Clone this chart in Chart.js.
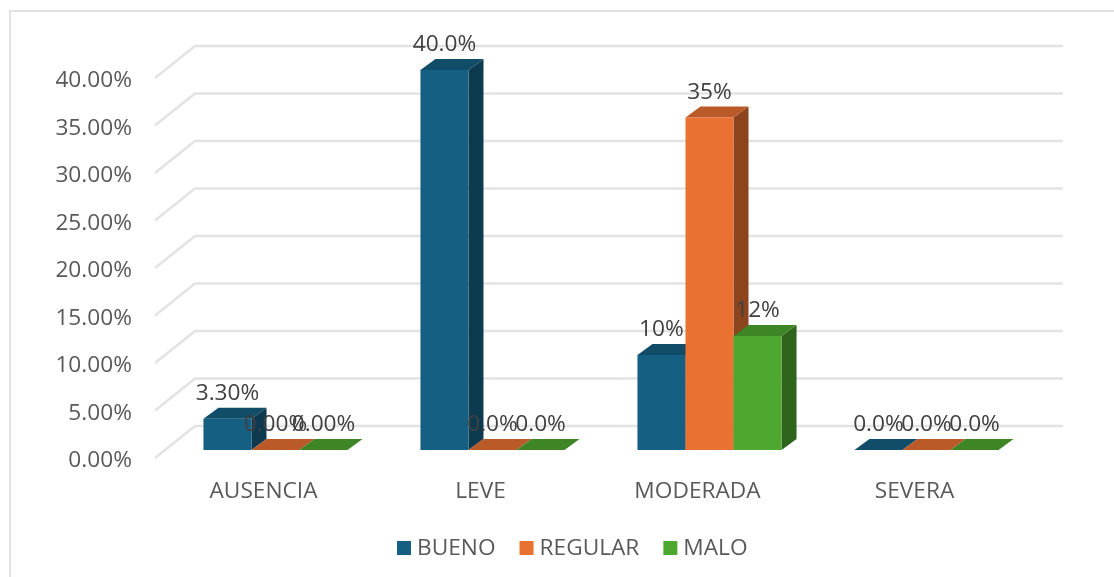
<!DOCTYPE html>
<html>
<head>
<meta charset="utf-8">
<title>Chart</title>
<script src="https://cdn.jsdelivr.net/npm/chart.js@4"></script>
<style>
  html, body { margin: 0; padding: 0; background: #fff; overflow: hidden; }
  #wrap { position: relative; width: 1114px; height: 577px; }
  #frame { position: absolute; left: 9px; top: 10px; width: 1120px; height: 600px; border: 2px solid #e2e2e2; }
  canvas { position: absolute; left: 0; top: 0; }
</style>
</head>
<body>
<div id="wrap">
  <div id="frame"></div>
  <canvas id="chart" width="1114" height="577"></canvas>
</div>
<script>
const categories = ['AUSENCIA', 'LEVE', 'MODERADA', 'SEVERA'];
const bueno = [3.3, 40, 10, 0];
const regular = [0, 0, 35, 0];
const malo = [0, 0, 12, 0];
const buenoLabels = ['3.30%', '40.0%', '10%', '0.0%'];
const regularLabels = ['0.00%', '0.0%', '35%', '0.0%'];
const maloLabels = ['0.00%', '0.0%', '12%', '0.0%'];

const fontFamily = '"Open Sans", "Noto Sans", sans-serif';
const fontSize = 22.7;
const textColor = '#595959';

// Offsets of the fake 3D box: bars sit inside the floor, walls are further back
const barShift = { x: 12, y: -8 };
const barDepth = { x: 15, y: -11 };
const wallDepth = { x: 40, y: -32 };

const shades = [
  { top: '#114d68', side: '#0d3a4e' },
  { top: '#ba5a28', side: '#8c441e' },
  { top: '#3e8625', side: '#2f641c' }
];
const dataLabels = [buenoLabels, regularLabels, maloLabels];

function fillPoly(ctx, color, pts) {
  ctx.fillStyle = color;
  ctx.beginPath();
  pts.forEach((p, i) => (i ? ctx.lineTo(p[0], p[1]) : ctx.moveTo(p[0], p[1])));
  ctx.closePath();
  ctx.fill();
}

const box3d = {
  id: 'box3d',
  // back wall and side wall gridlines
  beforeDatasetsDraw(chart) {
    const { ctx, chartArea, scales } = chart;
    ctx.save();
    ctx.strokeStyle = '#e3e3e3';
    ctx.lineWidth = 2.5;
    scales.y.ticks.forEach((tick, i) => {
      const y = scales.y.getPixelForTick(i);
      ctx.beginPath();
      ctx.moveTo(chartArea.left, y);
      ctx.lineTo(chartArea.left + wallDepth.x, y + wallDepth.y);
      ctx.lineTo(chartArea.right + wallDepth.x, y + wallDepth.y);
      ctx.stroke();
    });
    ctx.restore();
  },
  // chart.js paints the last dataset first, here the first one has to go under
  beforeDatasetDraw() {
    return false;
  },
  afterDatasetsDraw(chart) {
    const { ctx } = chart;
    chart.data.datasets.forEach((ds, i) => {
      const meta = chart.getDatasetMeta(i);
      const shade = shades[i];
      ctx.save();
      ctx.translate(barShift.x, barShift.y);
      meta.data.forEach(bar => {
        const p = bar.getProps(['x', 'y', 'base', 'width'], true);
        const l = p.x - p.width / 2;
        const r = p.x + p.width / 2;
        fillPoly(ctx, shade.side, [
          [r, p.y], [r + barDepth.x, p.y + barDepth.y],
          [r + barDepth.x, p.base + barDepth.y], [r, p.base]
        ]);
        fillPoly(ctx, shade.top, [
          [l, p.y], [r, p.y],
          [r + barDepth.x, p.y + barDepth.y], [l + barDepth.x, p.y + barDepth.y]
        ]);
      });
      meta.controller.draw();
      ctx.restore();
    });

    // value labels on top of everything
    ctx.save();
    ctx.font = fontSize + 'px ' + fontFamily;
    ctx.fillStyle = '#404040';
    ctx.textAlign = 'center';
    ctx.textBaseline = 'middle';
    chart.data.datasets.forEach((ds, i) => {
      chart.getDatasetMeta(i).data.forEach((bar, j) => {
        const p = bar.getProps(['x', 'y'], true);
        ctx.fillText(dataLabels[i][j], p.x + barShift.x, p.y + barShift.y - 25);
      });
    });

    // legend, the native one keeps too wide a gap between box and text
    ctx.textAlign = 'left';
    let x = 397;
    chart.data.datasets.forEach(ds => {
      ctx.fillStyle = ds.backgroundColor;
      ctx.fillRect(x, 541, 14, 14);
      x += 20;
      ctx.fillStyle = textColor;
      ctx.fillText(ds.label, x, 549);
      x += ctx.measureText(ds.label).width + 24;
    });
    ctx.restore();
  }
};

new Chart(document.getElementById('chart').getContext('2d'), {
  type: 'bar',
  data: {
    labels: categories,
    datasets: [
      { label: 'BUENO', data: bueno, backgroundColor: '#156082' },
      { label: 'REGULAR', data: regular, backgroundColor: '#E97132' },
      { label: 'MALO', data: malo, backgroundColor: '#4EA72E' }
    ]
  },
  options: {
    responsive: false,
    animation: false,
    categoryPercentage: 0.664,
    barPercentage: 1,
    layout: { padding: { top: 78, right: 91, bottom: 57, left: 0 } },
    scales: {
      x: {
        grid: { display: false },
        border: { display: false },
        ticks: { color: textColor, font: { family: fontFamily, size: fontSize }, padding: 12, maxRotation: 0 },
        afterFit(scale) { scale.height = 62; }
      },
      y: {
        min: 0,
        max: 40,
        grid: { display: false },
        border: { display: false },
        ticks: {
          stepSize: 5,
          color: textColor,
          padding: 15,
          labelOffset: 3,
          font: { family: fontFamily, size: fontSize },
          callback: v => v.toFixed(2) + '%'
        },
        afterFit(scale) { scale.width = 155; }
      }
    },
    plugins: {
      tooltip: { enabled: false },
      legend: { display: false }
    }
  },
  plugins: [box3d]
});
</script>
</body>
</html>
